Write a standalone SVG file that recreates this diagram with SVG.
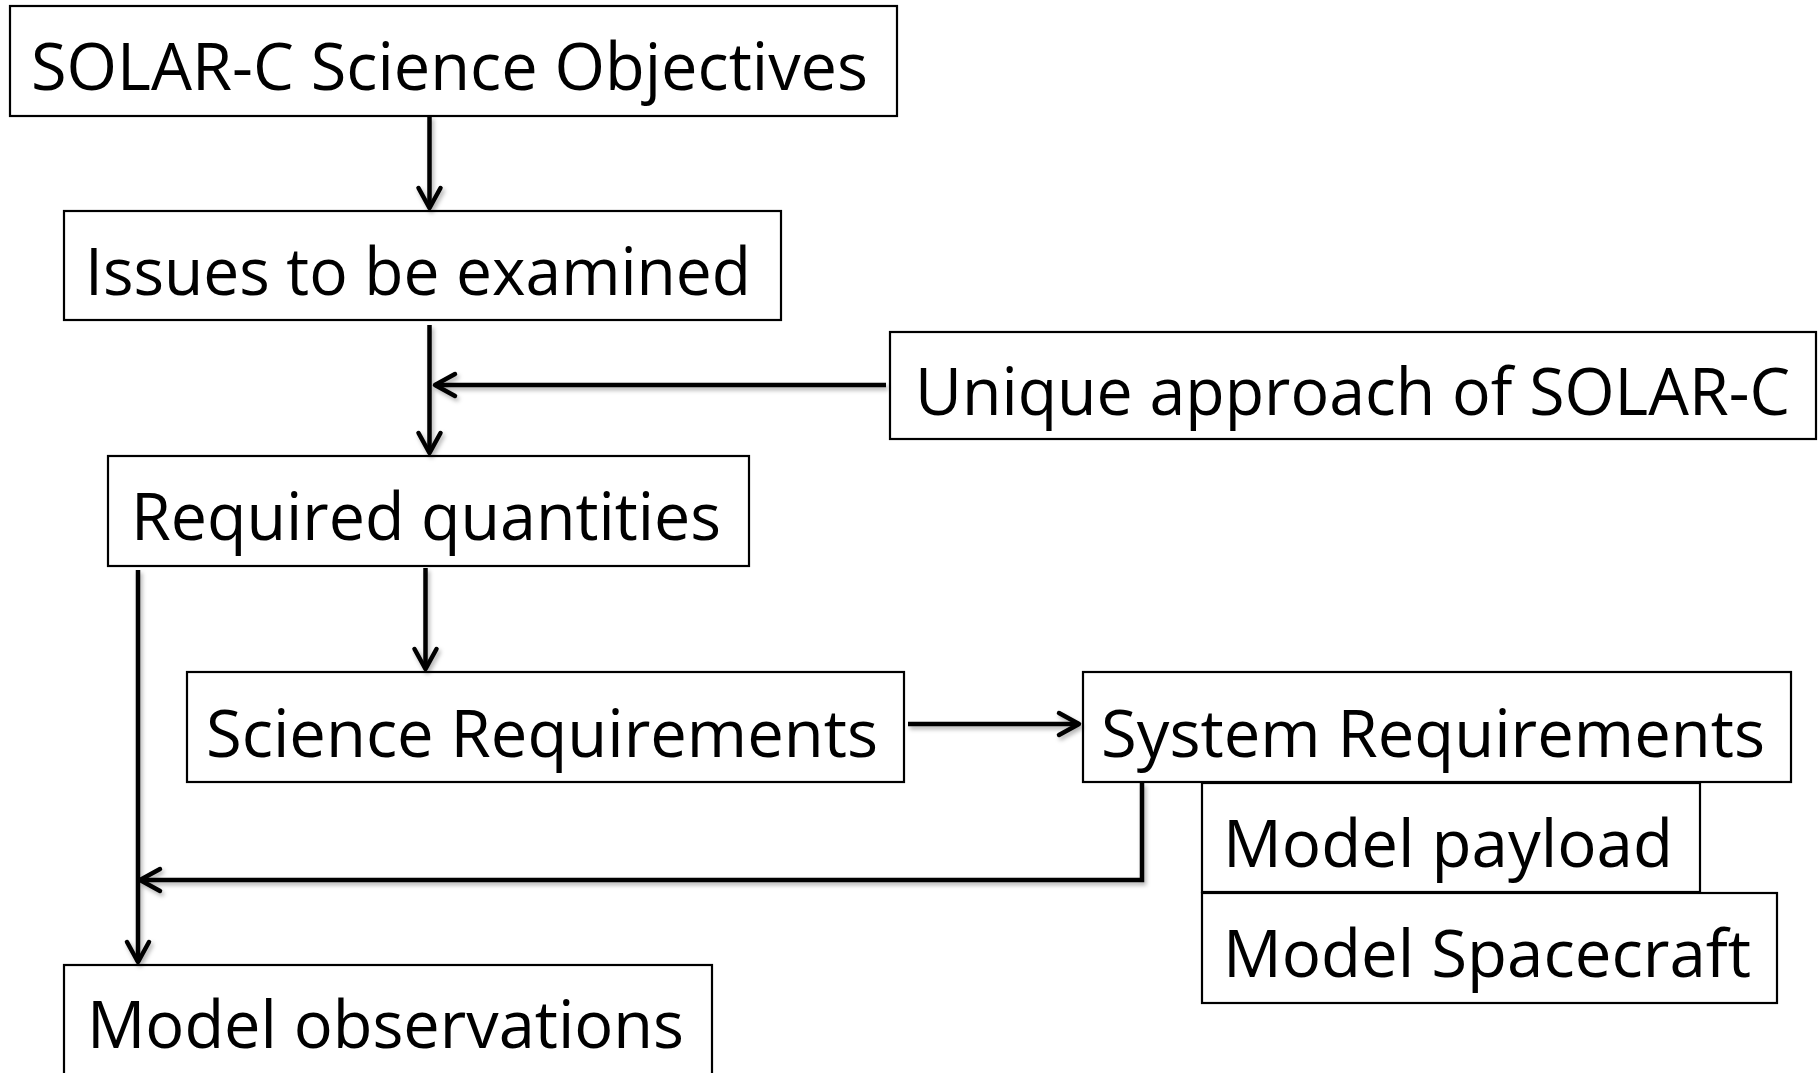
<svg xmlns="http://www.w3.org/2000/svg" width="1818" height="1073" viewBox="0 0 1818 1073">
  <style>
    .box { fill: #ffffff; stroke: #000000; stroke-width: 2.2; }
    .label { font-family: "Open Sans", "Noto Sans", "Liberation Sans", sans-serif; font-size: 66px; fill: #000000; }
    .wire { fill: none; stroke: #000000; stroke-width: 4.5; stroke-linecap: butt; stroke-linejoin: miter; }
  </style>
  <defs>
    <marker id="head" markerUnits="userSpaceOnUse" viewBox="-26 -16 30 32" refX="0" refY="0" markerWidth="30" markerHeight="32" orient="auto">
      <path d="M-20,-11 L0,0 L-20,11" fill="none" stroke="#000000" stroke-width="4.5" stroke-linecap="round" stroke-linejoin="round"/>
    </marker>
    <filter id="soft" x="-10%" y="-10%" width="120%" height="130%">
      <feDropShadow dx="2" dy="3" stdDeviation="2" flood-color="#000000" flood-opacity="0.3"/>
    </filter>
  </defs>

  <!-- nodes -->
  <g id="objectives">
    <rect class="box" x="10" y="6" width="887" height="110"/>
    <text class="label" x="31" y="90" textLength="837" lengthAdjust="spacingAndGlyphs">SOLAR-C Science Objectives</text>
  </g>
  <g id="issues">
    <rect class="box" x="64" y="211" width="717" height="109"/>
    <text class="label" x="85" y="295" textLength="666" lengthAdjust="spacingAndGlyphs">Issues to be examined</text>
  </g>
  <g id="unique-approach">
    <rect class="box" x="890" y="332" width="926" height="107"/>
    <text class="label" x="915" y="415" textLength="875" lengthAdjust="spacingAndGlyphs">Unique approach of SOLAR-C</text>
  </g>
  <g id="required-quantities">
    <rect class="box" x="108" y="456" width="641" height="110"/>
    <text class="label" x="131" y="540" textLength="590" lengthAdjust="spacingAndGlyphs">Required quantities</text>
  </g>
  <g id="science-requirements">
    <rect class="box" x="187" y="672" width="717" height="110"/>
    <text class="label" x="206" y="757" textLength="672" lengthAdjust="spacingAndGlyphs">Science Requirements</text>
  </g>
  <g id="system-requirements">
    <rect class="box" x="1083" y="672" width="708" height="110"/>
    <text class="label" x="1101" y="757" textLength="664" lengthAdjust="spacingAndGlyphs">System Requirements</text>
  </g>
  <g id="model-payload">
    <rect class="box" x="1202" y="783" width="498" height="109"/>
    <text class="label" x="1223" y="867" textLength="450" lengthAdjust="spacingAndGlyphs">Model payload</text>
  </g>
  <g id="model-spacecraft">
    <rect class="box" x="1202" y="893" width="575" height="110"/>
    <text class="label" x="1223" y="977" textLength="528" lengthAdjust="spacingAndGlyphs">Model Spacecraft</text>
  </g>
  <g id="model-observations">
    <rect class="box" x="64" y="965" width="648" height="130"/>
    <text class="label" x="87" y="1048" textLength="597" lengthAdjust="spacingAndGlyphs">Model observations</text>
  </g>

  <!-- connectors -->
  <g id="connectors" filter="url(#soft)">
    <path class="wire" d="M429.5,116 L429.5,208" marker-end="url(#head)"/>
    <path class="wire" d="M429.5,325 L429.5,453" marker-end="url(#head)"/>
    <path class="wire" stroke-width="6" d="M886,385 L435,385" marker-end="url(#head)"/>
    <path class="wire" d="M425.5,568 L425.5,669" marker-end="url(#head)"/>
    <path class="wire" d="M138,570 L138,962" marker-end="url(#head)"/>
    <path class="wire" stroke-width="6" d="M908,724 L1079,724" marker-end="url(#head)"/>
    <path class="wire" stroke-width="6" d="M1142,783 L1142,880 L140,880" marker-end="url(#head)"/>
  </g>
</svg>
